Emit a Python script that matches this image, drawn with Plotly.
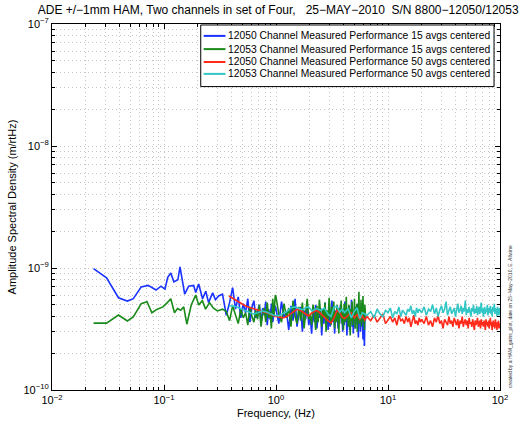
import plotly.graph_objects as go

# ---------------- data (amplitudes in units of 1e-10 m/rtHz) ----------------
UNIT = 1e-10

blue_f_low = [0.0235, 0.0307, 0.0392, 0.0471, 0.0532, 0.0626, 0.0722, 0.0849, 0.094, 0.102,
              0.108, 0.115, 0.1225, 0.133, 0.139, 0.153, 0.166, 0.184, 0.192, 0.204,
              0.221, 0.236, 0.250, 0.272, 0.288, 0.307, 0.333]
blue_low = [9.9, 8.3, 5.7, 5.36, 5.6, 7.0, 7.2, 6.6, 7.1, 6.7,
            8.4, 9.1, 7.7, 8.0, 10.2, 6.1, 7.1, 7.2, 6.3, 7.4,
            5.6, 6.45, 5.2, 6.25, 5.5, 5.9, 6.1]

green_f_low = [0.0235, 0.0307, 0.0392, 0.0471, 0.0532, 0.0626, 0.0705, 0.078, 0.087, 0.098,
               0.107, 0.115, 0.124, 0.132, 0.141, 0.150, 0.160, 0.175, 0.192, 0.204,
               0.220, 0.235, 0.255, 0.275, 0.300, 0.333]
green_low = [3.53, 3.53, 4.12, 3.68, 3.97, 5.1, 5.3, 4.3, 4.6, 4.8,
             5.2, 5.6, 4.3, 4.66, 4.5, 4.8, 3.46, 4.97, 6.0, 4.97,
             5.4, 4.6, 5.2, 4.7, 4.45, 4.6]

# shared dense grid for the 15-average spectra (0.36 .. 6.28 Hz)
dense_f_15 = [0.36, 0.385, 0.41, 0.435, 0.46, 0.485, 0.51, 0.535, 0.56, 0.585,
              0.61, 0.635, 0.66, 0.685, 0.71, 0.735, 0.76, 0.785, 0.81, 0.835,
              0.86, 0.885, 0.91, 0.935, 0.96, 0.985,
              1.00, 1.06, 1.12, 1.18, 1.24, 1.30, 1.36, 1.42, 1.48, 1.54,
              1.60, 1.66, 1.72, 1.78, 1.84, 1.90, 1.96, 2.02, 2.08, 2.14,
              2.20, 2.26, 2.32, 2.38, 2.44, 2.50, 2.56, 2.62, 2.68, 2.74,
              2.80, 2.86, 2.92, 2.98, 3.04, 3.10, 3.16, 3.22, 3.28, 3.34,
              3.40, 3.46, 3.52, 3.58, 3.64, 3.70, 3.76, 3.82, 3.88, 3.94,
              4.00, 4.06, 4.12, 4.18, 4.24, 4.30, 4.36, 4.42, 4.48, 4.54,
              4.60, 4.66, 4.72, 4.78, 4.84, 4.90, 4.96, 5.02, 5.08, 5.14,
              5.20, 5.26, 5.32, 5.38, 5.44, 5.50, 5.56, 5.62, 5.68, 5.74,
              5.80, 5.86, 5.92, 5.98, 6.04, 6.10, 6.16, 6.22, 6.28]

blue_dense = [4.1, 5.2, 6.9, 4.6, 5.8, 3.9, 5.1, 4.3, 5.6, 3.6,
              4.8, 5.4, 3.9, 4.4, 5.0, 3.5, 4.7, 4.1, 5.3, 3.4,
              4.6, 3.8, 5.1, 3.6, 4.2, 4.9,
              4.6, 3.5, 5.3, 3.9, 4.4, 3.1, 4.9, 3.7, 5.6, 3.3,
              4.2, 4.8, 3.0, 4.5, 3.8, 5.1, 3.4, 4.0, 2.9, 4.6,
              3.6, 5.0, 3.2, 4.3, 3.9, 4.7, 2.8, 4.1, 3.5, 5.2,
              3.7, 4.4, 3.1, 4.8, 3.3, 4.0, 5.4, 3.6, 4.2, 2.9,
              4.5, 3.8, 4.9, 3.2, 4.1, 3.5, 5.0, 3.9, 4.3, 3.0,
              4.6, 3.4, 5.3, 3.7, 4.0, 2.8, 4.4, 3.6, 4.9, 3.1,
              4.2, 3.8, 5.5, 3.3, 4.5, 2.9, 4.1, 3.7, 4.8, 3.2,
              4.3, 3.5, 5.1, 3.9, 2.7, 4.4, 3.6, 4.7, 3.0, 4.0,
              3.4, 5.2, 3.8, 2.6, 4.3, 3.5, 2.3, 4.1, 3.7]

green_dense = [4.4, 3.7, 4.9, 4.1, 3.5, 4.6, 3.9, 4.3, 3.4, 4.8,
               4.0, 3.6, 4.5, 3.8, 5.0, 3.3, 4.2, 4.7, 3.6, 5.2,
               3.9, 4.4, 3.2, 5.6, 4.1, 6.0,
               5.8, 4.2, 3.6, 5.1, 3.9, 4.7, 3.3, 5.4, 4.0, 3.5,
               4.8, 3.7, 5.2, 3.2, 4.4, 5.6, 3.8, 4.1, 3.4, 5.0,
               4.3, 3.1, 4.9, 3.6, 5.5, 4.0, 3.3, 4.6, 3.9, 5.2,
               3.0, 4.5, 3.7, 5.7, 4.1, 3.4, 4.8, 3.8, 5.3, 3.2,
               4.4, 3.6, 5.0, 4.2, 2.9, 4.7, 3.9, 5.4, 3.5, 4.3,
               3.1, 5.1, 4.0, 3.6, 5.8, 3.8, 4.5, 3.3, 5.0, 4.1,
               2.8, 4.6, 3.7, 5.3, 3.4, 4.2, 3.9, 5.6, 3.2, 4.4,
               3.8, 5.1, 3.0, 4.7, 4.1, 6.4, 3.5, 4.3, 3.7, 5.5,
               3.3, 4.8, 3.9, 5.9, 3.6, 4.5, 3.1, 5.0, 4.2]

# grid for the 50-average spectra (0.38 .. 100 Hz)
f_50 = [0.38, 0.43, 0.48, 0.53, 0.58, 0.63, 0.69, 0.75, 0.82, 0.89, 0.96,
        1.05, 1.15, 1.25, 1.35, 1.45, 1.55, 1.65, 1.75, 1.85, 1.95,
        2.1, 2.3, 2.5, 2.7, 2.9, 3.1, 3.3, 3.5, 3.7, 3.9,
        4.1, 4.4, 4.7, 5.0, 5.3, 5.6, 5.9, 6.2,
        6.5, 7.0, 7.5, 8.0, 8.5, 9.0, 9.5, 10.0, 10.5, 11.0,
        11.5, 12.0, 12.5, 13.0, 13.5, 14.0, 14.5, 15.0, 15.5, 16.0,
        16.5, 17.0, 17.5, 18.0, 18.5, 19.0, 19.5,
        20, 21, 22, 23, 24, 25, 26, 27, 28, 29,
        30, 31, 32, 33, 34, 35, 36, 37, 38, 39,
        40, 41, 42, 43, 44, 45, 46, 47, 48, 49,
        50, 51, 52, 53, 54, 55, 56, 57, 58, 59,
        60, 61, 62, 63, 64, 65, 66, 67, 68, 69,
        70, 71, 72, 73, 74, 75, 76, 77, 78, 79,
        80, 81, 82, 83, 84, 85, 86, 87, 88, 89,
        90, 91, 92, 93, 94, 95, 96, 97, 98, 99,
        100]

red_50 = [5.9, 5.5, 5.1, 4.9, 4.75, 4.65, 4.5, 4.4, 4.3, 4.2, 4.05,
          3.95, 3.9, 4.0, 4.2, 4.45, 4.6, 4.5, 4.35, 4.2, 4.05,
          4.3, 4.5, 4.25, 3.95, 3.7, 3.55, 3.9, 4.5, 4.3, 3.95,
          3.85, 4.1, 4.3, 3.9, 4.15, 3.8, 4.05, 3.75,
          4.0, 3.7, 4.1, 3.6, 3.9, 4.2, 3.5, 3.8, 4.0, 3.6,
          3.9, 3.4, 4.1, 3.7, 3.8, 3.5, 4.0, 3.6, 3.9, 3.3,
          3.8, 4.1, 3.5, 3.7, 3.4, 3.9, 3.6,
          3.8, 3.5, 4.0, 3.4, 3.7, 3.3, 3.9, 3.6, 4.1, 3.5,
          3.7, 3.2, 3.8, 3.6, 3.4, 4.0, 3.5, 3.7, 3.3, 3.9,
          3.6, 3.4, 3.8, 3.2, 3.7, 3.5, 4.0, 3.3, 3.6, 3.8,
          3.4, 3.7, 3.2, 3.9, 3.5, 3.6, 3.3, 3.8, 3.5, 3.1,
          3.7, 3.4, 3.6, 3.9, 3.3, 3.5, 3.7, 3.2, 3.8, 3.4,
          3.6, 3.3, 3.7, 3.5, 3.1, 3.8, 3.4, 3.6, 3.3, 3.7,
          3.2, 3.5, 3.9, 3.4, 3.6, 3.1, 3.5, 3.7, 3.3, 3.6,
          3.2, 3.8, 3.4, 3.5, 3.1, 3.6, 3.3, 3.7, 3.2, 3.5,
          3.4]

cyan_50 = [4.9, 4.85, 4.65, 4.5, 4.35, 4.2, 4.3, 4.45, 4.35, 4.2, 4.1,
           4.05, 4.2, 4.4, 4.7, 4.8, 4.75, 4.6, 4.55, 4.75, 4.8,
           4.45, 4.65, 4.5, 4.7, 4.2, 4.0, 4.8, 4.85, 4.35, 4.6,
           4.3, 4.65, 3.9, 4.4, 4.7, 3.85, 4.3, 4.2,
           4.1, 4.4, 3.9, 4.6, 4.2, 4.0, 4.5, 4.3, 4.7, 3.9,
           4.4, 4.2, 4.8, 4.0, 4.5, 4.3, 4.1, 4.6, 4.4, 4.9,
           4.2, 4.5, 4.0, 4.7, 4.3, 4.6, 4.4,
           4.3, 4.8, 4.1, 4.6, 4.4, 5.0, 4.2, 4.7, 4.0, 4.5,
           4.9, 4.3, 4.6, 5.3, 4.1, 4.5, 4.8, 4.2, 4.4, 4.7,
           4.0, 4.6, 5.1, 4.3, 4.5, 4.9, 4.2, 4.7, 4.4, 5.4,
           4.1, 4.6, 4.3, 4.8, 4.5, 4.0, 4.7, 4.4, 5.0, 4.2,
           4.6, 4.3, 4.9, 4.1, 4.5, 4.8, 4.2, 4.6, 5.2, 4.3,
           4.7, 4.0, 4.5, 4.8, 4.2, 4.6, 4.4, 5.0, 4.1, 4.5,
           4.7, 4.3, 4.9, 4.2, 4.6, 4.0, 4.8, 4.4, 4.5, 5.1,
           4.2, 4.7, 4.3, 4.6, 4.0, 4.8, 4.4, 4.5, 4.1, 4.7,
           4.4]

names = ["12050 Channel Measured Performance 15 avgs centered",
         "12053 Channel Measured Performance 15 avgs centered",
         "12050 Channel Measured Performance 50 avgs centered",
         "12053 Channel Measured Performance 50 avgs centered"]
colors = ["#1a33ff", "#1a8a1a", "#ff2a1a", "#33c6c6"]

x_tick_vals = [0.01, 0.1, 1, 10, 100]
x_tick_text = ["10<sup>\u22122</sup>", "10<sup>\u22121</sup>", "10<sup>0</sup>",
               "10<sup>1</sup>", "10<sup>2</sup>"]
y_tick_vals = [1e-10, 1e-9, 1e-8, 1e-7]
y_tick_text = ["10<sup>\u221210</sup>", "10<sup>\u22129</sup>",
               "10<sup>\u22128</sup>", "10<sup>\u22127</sup>"]

# ---------------- figure ----------------
series = [
    (blue_f_low + dense_f_15, blue_low + blue_dense),
    (green_f_low + dense_f_15, green_low + green_dense),
    (f_50, red_50),
    (f_50, cyan_50),
]

fig = go.Figure()
for (xs, ys), nm, col in zip(series, names, colors):
    fig.add_trace(go.Scatter(x=xs, y=[v * UNIT for v in ys], mode="lines", name=nm,
                             line=dict(color=col, width=1.6), showlegend=False))

FONT = "Liberation Sans, Arial, Helvetica, sans-serif"
grid_col = "#c4c4c4"
axis_common = dict(
    type="log", showline=True, linecolor="black", linewidth=1, mirror="allticks",
    ticks="inside", ticklen=5, tickcolor="black",
    showgrid=True, gridcolor=grid_col, griddash="1px,3px", gridwidth=1,
    zeroline=False, tickfont=dict(family=FONT, size=11, color="black"),
    minor=dict(ticks="inside", ticklen=3, tickcolor="black", dtick="D1",
               showgrid=True, gridcolor=grid_col, griddash="1px,3px", gridwidth=1),
)

fig.update_layout(
    width=520, height=430,
    margin=dict(l=50, r=18, t=24, b=37),
    paper_bgcolor="white", plot_bgcolor="white",
    font=dict(family=FONT, size=11, color="black"),
    title=dict(text="ADE +/\u22121mm HAM, Two channels in set of Four,\u00a0\u00a0 25\u2212MAY\u22122010\u00a0 S/N 8800\u221212050/12053",
               x=0.535, xanchor="center", y=0.978, yanchor="middle",
               font=dict(family=FONT, size=12, color="black")),
    xaxis=dict(axis_common, range=[-2, 2], tickmode="array", tickvals=x_tick_vals,
               ticktext=x_tick_text,
               title=dict(text="Frequency, (Hz)", standoff=4,
                          font=dict(family=FONT, size=11, color="black"))),
    yaxis=dict(axis_common, range=[-10, -7], tickmode="array", tickvals=y_tick_vals,
               ticktext=y_tick_text,
               title=dict(text="Amplitude Spectral Density (m/rtHz)", standoff=4,
                          font=dict(family=FONT, size=11, color="black"))),
    showlegend=False,
)

# ---- legend box drawn in paper coordinates (compact, MATLAB-style) ----
box = dict(x0=0.332, x1=0.9867, y0=0.829, y1=0.9973)
fig.add_shape(type="rect", xref="paper", yref="paper", layer="above",
              x0=box["x0"], x1=box["x1"], y0=box["y0"], y1=box["y1"],
              line=dict(color="black", width=1), fillcolor="white")
row_y = [0.9675, 0.9314, 0.8962, 0.8637]
for yy, nm, col in zip(row_y, names, colors):
    fig.add_shape(type="line", xref="paper", yref="paper", layer="above",
                  x0=0.3385, x1=0.3872, y0=yy, y1=yy, line=dict(color=col, width=2))
    fig.add_annotation(text=nm, xref="paper", yref="paper", x=0.3895, y=yy,
                       xanchor="left", yanchor="middle", showarrow=False,
                       font=dict(family=FONT, size=10.3, color="black"))

fig.add_annotation(text="created by a HAM_gains_plot, date on 25\u2212May\u22122010, E. Allwine",
                   xref="paper", yref="paper", x=1.01, y=0.0, xanchor="left", yanchor="bottom",
                   textangle=-90, showarrow=False,
                   font=dict(family=FONT, size=5, color="#333333"))

fig.write_html("out.html")
